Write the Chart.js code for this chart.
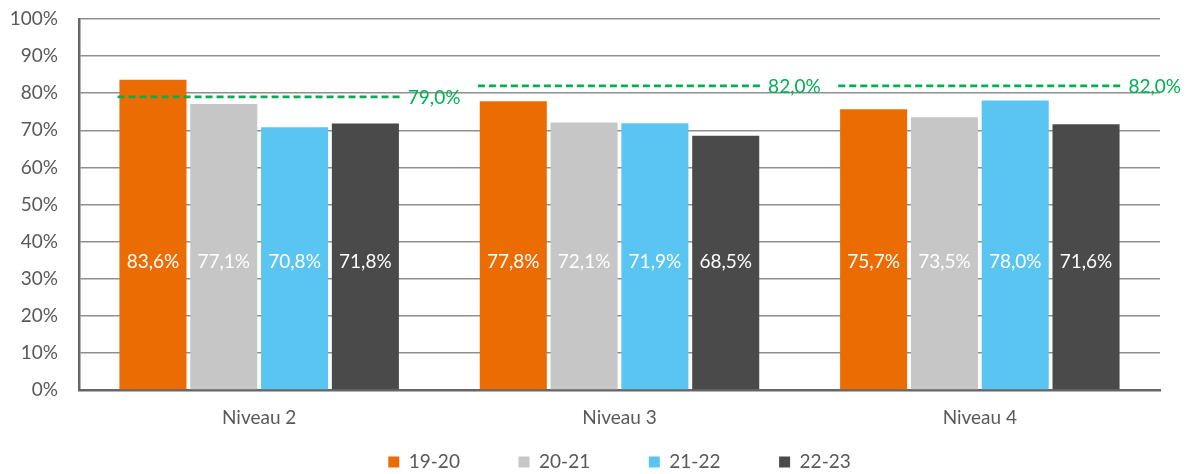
<!DOCTYPE html>
<html>
<head>
<meta charset="utf-8">
<script src="https://cdn.jsdelivr.net/npm/chart.js@4"></script>
<style>
    html, body { margin: 0; padding: 0; background: #fff; }
    #wrap { width: 1192px; height: 474px; }
</style>
</head>
<body>
<div id="wrap"><canvas id="chart"></canvas></div>
<script>
// --- Data ---
const categories = ['Niveau 2', 'Niveau 3', 'Niveau 4'];
const seriesNames = ['19-20', '20-21', '21-22', '22-23'];
const values1920 = [83.6, 77.8, 75.7];
const values2021 = [77.1, 72.1, 73.5];
const values2122 = [70.8, 71.9, 78.0];
const values2223 = [71.8, 68.5, 71.6];
const targets = [79.0, 82.0, 82.0];
const yTicks = [0, 10, 20, 30, 40, 50, 60, 70, 80, 90, 100];

const seriesColors = ['#ec6c04', '#c6c6c6', '#5bc5f2', '#4a4a4a'];
const targetColor = '#00b050';
const textColor = '#595959';
const axisColor = '#666666';
const FONT = 'Lato, "Open Sans", sans-serif';
const FONT_SIZE = 19;
const CAT_PCT = 0.786;
const LABEL_LEVEL = 34.5; // value where the inside labels sit
const LEGEND_GAP = '\u00a0'.repeat(10); // widens the space between legend entries

const fmt = v => v.toFixed(1).replace('.', ',') + '%';

const barSeries = [values1920, values2021, values2122, values2223];

// target segments, in category index units (parsing is off for this dataset)
const targetPoints = [];
targets.forEach((t, i) => {
    targetPoints.push({ x: i - CAT_PCT / 2, y: t });
    targetPoints.push({ x: i + CAT_PCT / 2, y: t });
    if (i < targets.length - 1) targetPoints.push({ x: i + 0.5, y: null });
});

// --- Plugin: labels inside bars + target labels ---
const labelPlugin = {
    id: 'labels',
    afterDatasetsDraw(chart) {
        const ctx = chart.ctx;
        const y = chart.scales.y;
        ctx.save();
        ctx.font = FONT_SIZE + 'px ' + FONT;
        ctx.textAlign = 'center';
        ctx.textBaseline = 'middle';
        ctx.fillStyle = '#ffffff';
        barSeries.forEach((vals, di) => {
            const meta = chart.getDatasetMeta(di);
            meta.data.forEach((bar, i) => {
                ctx.fillText(fmt(vals[i]), bar.x, y.getPixelForValue(LABEL_LEVEL));
            });
        });
        // target value labels at the end of each dashed segment
        const lineMeta = chart.getDatasetMeta(barSeries.length);
        ctx.textAlign = 'left';
        ctx.fillStyle = targetColor;
        targets.forEach((t, i) => {
            const pt = lineMeta.data[i * 3 + 1];
            ctx.fillText(fmt(t), pt.x + 7, pt.y + 1);
        });
        ctx.restore();
    }
};

const datasets = seriesNames.map((name, i) => ({
    type: 'bar',
    label: name,
    data: barSeries[i],
    backgroundColor: seriesColors[i],
    categoryPercentage: CAT_PCT,
    barPercentage: 0.947,
    order: 2
}));

datasets.push({
    type: 'line',
    label: 'target',
    data: targetPoints,
    parsing: false,
    borderColor: targetColor,
    borderWidth: 2.8,
    borderDash: [7, 4],
    pointRadius: 0,
    spanGaps: false,
    order: 1
});

new Chart(document.getElementById('chart'), {
    type: 'bar',
    data: { labels: categories, datasets },
    options: {
        responsive: true,
        maintainAspectRatio: false,
        animation: false,
        layout: { padding: { top: 19, right: 32, bottom: 0, left: 0 } },
        plugins: {
            tooltip: { enabled: false },
            legend: {
                position: 'bottom',
                fullSize: false,
                maxHeight: 31.5,
                labels: {
                    boxWidth: 11,
                    boxHeight: 11,
                    padding: 10,
                    color: textColor,
                    font: { family: FONT, size: FONT_SIZE },
                    generateLabels: chart => {
                        const items = Chart.defaults.plugins.legend.labels.generateLabels(chart)
                            .filter(item => item.datasetIndex < barSeries.length);
                        items.forEach((item, i) => {
                            if (i < items.length - 1) item.text += LEGEND_GAP;
                        });
                        return items;
                    }
                }
            }
        },
        scales: {
            x: {
                min: categories[0],
                max: categories[categories.length - 1],
                grid: { display: false, drawTicks: false },
                border: { color: axisColor, width: 2.5 },
                ticks: { color: textColor, font: { family: FONT, size: FONT_SIZE }, padding: 16 },
                afterFit: scale => { scale.height = 52.5; }
            },
            y: {
                min: 0,
                max: 100,
                afterBuildTicks: scale => { scale.ticks = yTicks.map(v => ({ value: v })); },
                afterFit: scale => {
                    scale.width = 79;
                    scale.paddingTop = 11;
                    scale.paddingBottom = 11;
                },
                grid: { color: '#8f8f8f', lineWidth: 1.4, drawTicks: false },
                border: { color: axisColor, width: 2.5 },
                ticks: {
                    color: textColor,
                    font: { family: FONT, size: FONT_SIZE },
                    padding: 21,
                    callback: v => v + '%'
                }
            }
        }
    },
    plugins: [labelPlugin]
});
</script>
</body>
</html>
